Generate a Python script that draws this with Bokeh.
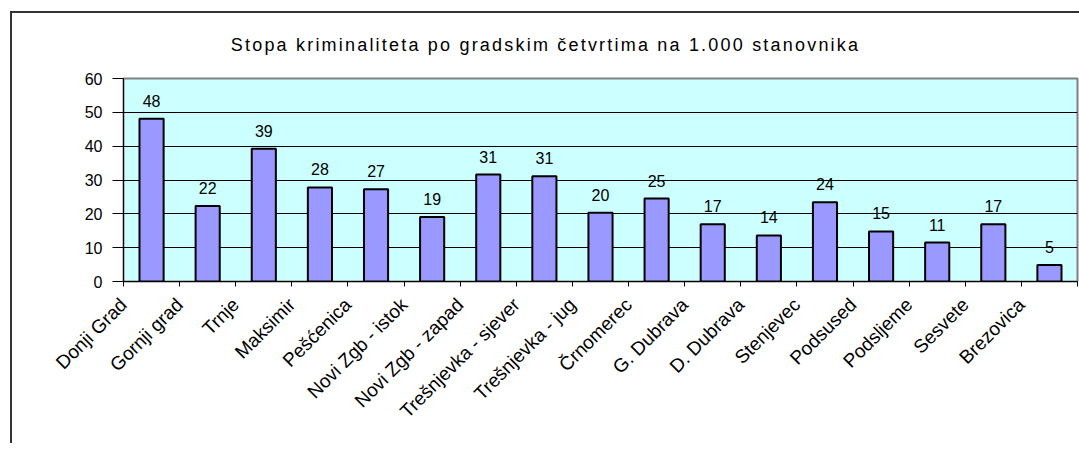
from bokeh.plotting import figure
from bokeh.models import Range1d, FixedTicker, ColumnDataSource, Div
from bokeh.layouts import column
from bokeh.embed import file_html
from bokeh.resources import INLINE
from bokeh.core.properties import value
import numpy as np
import math

TITLE = "Stopa kriminaliteta po gradskim četvrtima na 1.000 stanovnika"
districts = ["Donji Grad", "Gornji grad", "Trnje", "Maksimir", "Pešćenica",
             "Novi Zgb - istok", "Novi Zgb - zapad", "Trešnjevka - sjever",
             "Trešnjevka - jug", "Črnomerec", "G. Dubrava", "D. Dubrava",
             "Stenjevec", "Podsused", "Podsljeme", "Sesvete", "Brezovica"]
rates = [48.1, 22.3, 39.2, 27.8, 27.3, 19.1, 31.6, 31.1, 20.3, 24.5,
         16.9, 13.6, 23.4, 14.8, 11.5, 16.9, 4.9]
rate_labels = ["48", "22", "39", "28", "27", "19", "31", "31", "20", "25",
               "17", "14", "24", "15", "11", "17", "5"]
y_ticks = [0, 10, 20, 30, 40, 50, 60]

FONT = "Liberation Sans"
n = len(districts)
idx = np.arange(n)
src = ColumnDataSource(dict(x=idx + 0.5, top=rates, lab=rate_labels))

W = 1067
p = figure(width=W, height=385, x_range=Range1d(0, n), y_range=Range1d(0, 60),
           output_backend="svg", toolbar_location=None,
           min_border_left=111, min_border_right=2, min_border_top=20, min_border_bottom=162,
           margin=0)

p.background_fill_color = "#CCFFFF"
p.border_fill_color = "white"
p.outline_line_color = "#808080"
p.outline_line_width = 2

p.vbar(x="x", top="top", width=0.43, bottom=0, source=src,
       fill_color="#9999FF", line_color="black", line_width=2)

p.text(x="x", y="top", text="lab", source=src, text_align="center",
       text_baseline="middle", y_offset=-18, text_font=value(FONT),
       text_font_size="16px", text_color="black")

# grid
p.xgrid.visible = False
p.ygrid.ticker = FixedTicker(ticks=y_ticks)
p.ygrid.grid_line_color = "black"
p.ygrid.grid_line_width = 1

# y axis
p.yaxis.ticker = FixedTicker(ticks=y_ticks)
p.yaxis.axis_line_color = "black"
p.yaxis.major_tick_line_color = "black"
p.yaxis.major_tick_in = 0
p.yaxis.major_tick_out = 11
p.yaxis.minor_tick_line_color = None
p.yaxis.major_label_standoff = 10
p.yaxis.major_label_text_font = FONT
p.yaxis.major_label_text_font_size = "16px"
p.yaxis.major_label_text_color = "black"

# x axis: ticks at category boundaries, labels rotated
p.xaxis.ticker = FixedTicker(ticks=list(range(n + 1)))
p.xaxis.major_label_overrides = {i: districts[i] for i in range(n)} | {n: ""}
p.xaxis.major_label_orientation = math.pi / 4
p.xaxis.axis_line_color = "black"
p.xaxis.major_tick_line_color = "black"
p.xaxis.major_tick_in = 0
p.xaxis.major_tick_out = 5
p.xaxis.minor_tick_line_color = None
p.xaxis.major_label_standoff = 15
p.xaxis.major_label_text_font = FONT
p.xaxis.major_label_text_font_size = "19px"
p.xaxis.major_label_text_color = "black"

title_div = Div(
    text=(f'<div style="width:{W}px; text-align:center; font-family:\'Liberation Sans\'; font-size:18px; '
          'letter-spacing:2.2px; color:#000; padding-top:22px; white-space:nowrap; line-height:normal;">'
          + TITLE + '</div>'),
    width=W, height=45, margin=0)

layout = column(title_div, p, spacing=0,
                styles={"border-left": "2px solid #333333", "border-top": "2px solid #333333"},
                margin=(11, 0, 0, 10))

open("out.html", "w").write(file_html(layout, INLINE))
